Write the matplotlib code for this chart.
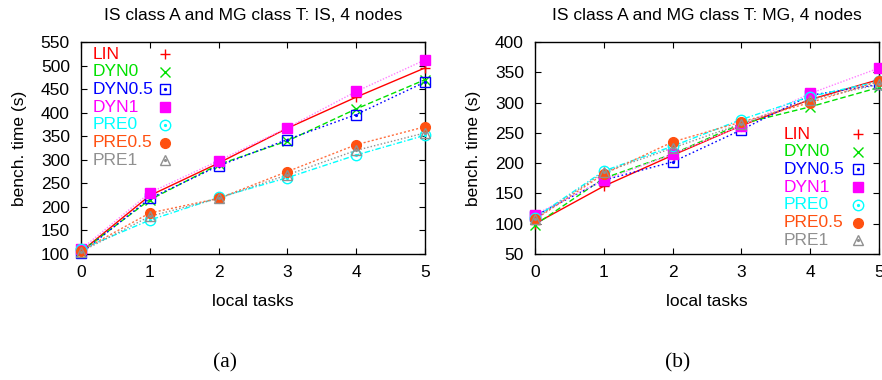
import numpy as np
import matplotlib
matplotlib.use("Agg")
import matplotlib.pyplot as plt

plt.rcParams['font.family'] = ['Liberation Sans', 'DejaVu Sans']

tasks = [0, 1, 2, 3, 4, 5]
names = ["LIN", "DYN0", "DYN0.5", "DYN1", "PRE0", "PRE0.5", "PRE1"]

# IS benchmark times (s)
is_lin = [105, 224, 293, 367, 433, 495]
is_dyn0 = [105, 215, 290, 340, 408, 470]
is_dyn05 = [102, 218, 287, 343, 396, 465]
is_dyn1 = [110, 230, 298, 368, 445, 512]
is_pre0 = [110, 172, 220, 262, 310, 352]
is_pre05 = [107, 187, 218, 275, 332, 370]
is_pre1 = [105, 180, 218, 268, 320, 357]

# MG benchmark times (s)
mg_lin = [100, 162, 213, 262, 305, 338]
mg_dyn0 = [98, 175, 215, 265, 293, 325]
mg_dyn05 = [113, 172, 202, 255, 312, 330]
mg_dyn1 = [115, 172, 215, 262, 315, 357]
mg_pre0 = [110, 187, 228, 272, 310, 335]
mg_pre05 = [107, 182, 235, 268, 300, 335]
mg_pre1 = [108, 185, 225, 265, 305, 330]

# style per series: color, line style, marker, filled
styles = [
    ('#ff0000', '-', '+', True),
    ('#00e000', (0, (4, 2)), 'x', True),
    ('#0000ff', (0, (1.2, 1.8)), 's', False),
    ('#ff00ff', (0, (1, 1.2)), 's', True),
    ('#00ffff', (0, (4, 1.5, 1, 1.5)), 'o', False),
    ('#ff5010', (0, (1.5, 1.5)), 'o', True),
    ('#909090', (0, (1, 1.5)), '^', False),
]
line_colors = ['#ff0000', '#00e000', '#0000ff', '#ff80ff', '#00ffff', '#ff7040', '#909090']
FS = 12.5


def marker(ax, x, y, c, m, filled, **kw):
    if filled:
        ax.plot(x, y, ls='none', marker=m, color=c, ms=7.5 if m in '+x' else 7,
                mew=1.0, zorder=3, clip_on=False, **kw)
    else:
        ax.plot(x, y, ls='none', marker=m, mfc='none', mec=c, ms=7.5,
                mew=1.0, zorder=3, clip_on=False, **kw)
        ax.plot(x, y, ls='none', marker='o', color=c, ms=1.3, zorder=3, clip_on=False, **kw)


def draw(ax, data, title, yticks, legend_x, legend_y0, marker_x):
    for vals, (c, ls, m, filled), lc in zip(data, styles, line_colors):
        ax.plot(tasks, vals, color=lc, ls=ls, lw=1.0, zorder=2)
        marker(ax, tasks, vals, c, m, filled)
    # legend: colored text with marker sample
    for i, (n, (c, ls, m, filled)) in enumerate(zip(names, styles)):
        y = legend_y0 - i * 0.0835
        ax.text(legend_x, y, n, color=c, fontsize=FS, va='center', ha='left',
                transform=ax.transAxes)
        marker(ax, [marker_x], [y], c, m, filled, transform=ax.transAxes)
    ax.set_xlim(0, 5)
    ax.set_ylim(yticks[0], yticks[-1])
    ax.set_xticks(tasks)
    ax.set_yticks(yticks)
    ax.tick_params(direction='in', top=True, right=True, labelsize=FS, length=4,
                   width=0.8, pad=8)
    for s in ax.spines.values():
        s.set_linewidth(1.0)
    ax.text(0.5, 1.123, title, fontsize=FS, ha='center', va='center',
            transform=ax.transAxes)
    ax.set_xlabel("local tasks", fontsize=FS, labelpad=10)
    ax.set_ylabel("bench. time (s)", fontsize=FS, labelpad=10)


fig = plt.figure(figsize=(8.82, 3.8), dpi=100)
ax1 = fig.add_axes([81 / 882, 126 / 380, 344 / 882, 212 / 380])
ax2 = fig.add_axes([535 / 882, 126 / 380, 344 / 882, 212 / 380])

draw(ax1, [is_lin, is_dyn0, is_dyn05, is_dyn1, is_pre0, is_pre05, is_pre1],
     "IS class A and MG class T: IS, 4 nodes", np.arange(100, 551, 50), 0.035, 0.943, 0.245)
draw(ax2, [mg_lin, mg_dyn0, mg_dyn05, mg_dyn1, mg_pre0, mg_pre05, mg_pre1],
     "IS class A and MG class T: MG, 4 nodes", np.arange(50, 401, 50), 0.724, 0.566, 0.939)

fig.text(225 / 882, 1 - 363 / 380, "(a)", fontsize=15.5, family='Liberation Serif',
         ha='center', va='center')
fig.text(678 / 882, 1 - 363 / 380, "(b)", fontsize=15.5, family='Liberation Serif',
         ha='center', va='center')

fig.savefig("out.png", dpi=100)
